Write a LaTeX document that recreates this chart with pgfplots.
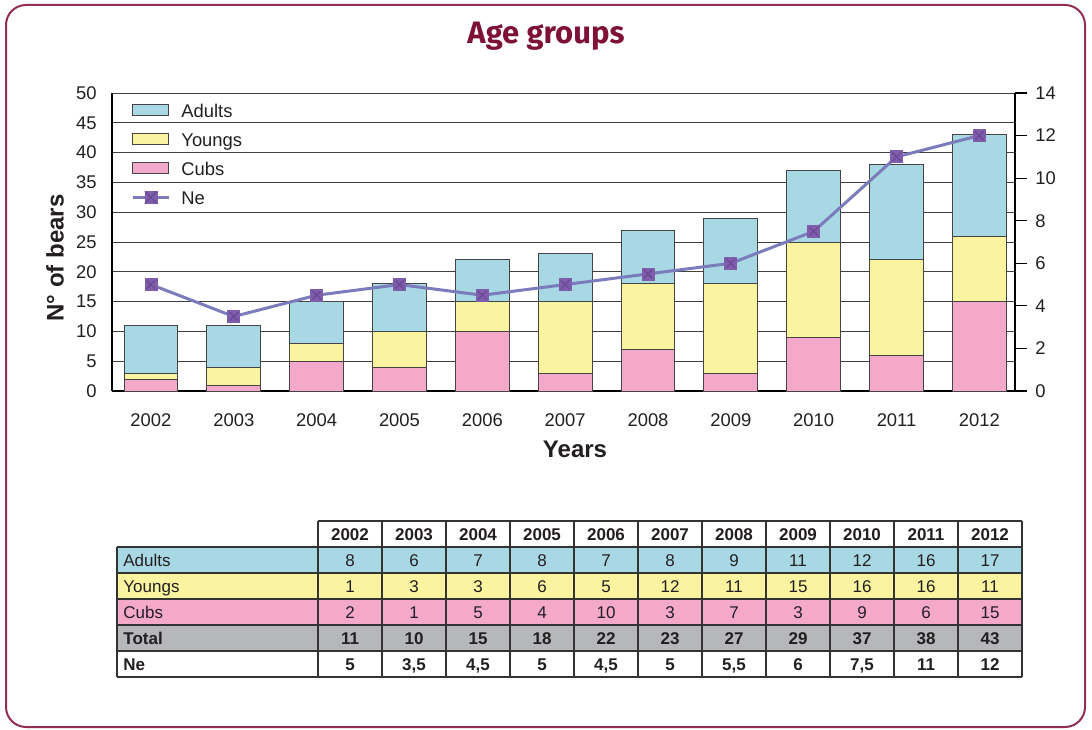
\documentclass[border=0pt]{standalone}
\usepackage{fontspec}
\setmainfont{Liberation Sans}
\newfontfamily\titlefont{Fira Sans}
\usepackage{pgfplots}
\pgfplotsset{compat=1.18}

\definecolor{adult}{HTML}{A8D8E4}
\definecolor{young}{HTML}{FAF3A0}
\definecolor{cub}{HTML}{F4A8CA}
\definecolor{totgray}{HTML}{B5B7BA}
\definecolor{titlecol}{HTML}{7E1236}
\definecolor{framecol}{HTML}{922F50}
\definecolor{necol}{HTML}{7A7CBC}
\definecolor{nemark}{HTML}{7E5DAA}
\definecolor{nex}{HTML}{6A4796}
\definecolor{barline}{HTML}{444444}
\definecolor{ink}{HTML}{231F20}

\pgfplotsset{
  common/.style={
    at={(56pt,169pt)}, anchor=south west,
    scale only axis, width=451.5pt, height=149pt,
    xmin=-0.47, xmax=10.43,
    tick label style={font=\fontsize{9.2}{11}\selectfont, text=ink, inner sep=0pt},
    /pgf/number format/assume math mode=true,
  },
  barbox/.style={draw=barline, line width=0.5pt,
    legend image code/.code={\draw[##1] (0pt,-2.75pt) rectangle (18pt,2.75pt);}},
}

\begin{document}
\begin{tikzpicture}
\begin{scope}[x=0.5pt,y=-0.5pt,yshift=364.5pt]
  \path[use as bounding box] (0,0) rectangle (1092,729);
  \draw[framecol, line width=1pt, rounded corners=10pt] (6,5) rectangle (1085,727);
  \node[anchor=base, text=titlecol, font=\titlefont\bfseries\fontsize{15.5}{18}\selectfont] at (546,44) {Age groups};
  \node[rotate=90, text=ink, font=\bfseries\fontsize{12}{14}\selectfont] at (55,258) {N° of bears};
  \node[anchor=base, text=ink, font=\bfseries\fontsize{12}{14}\selectfont] at (575,458) {Years};

  % table
  \fill[white] (318,521) rectangle (1022,547);
  \fill[adult] (117,547) rectangle (1022,573);
  \fill[young] (117,573) rectangle (1022,599);
  \fill[cub] (117,599) rectangle (1022,625);
  \fill[totgray] (117,625) rectangle (1022,651);
  \fill[white] (117,651) rectangle (1022,677);
  \begin{scope}[draw=black!80, line width=0.8pt]
    \draw (318,521) -- (1022,521);
    \foreach \r in {547,573,599,625,651,677} \draw (117,\r) -- (1022,\r);
    \draw (117,547) -- (117,677);
    \foreach \c in {0,...,11} \draw (318+64*\c,521) -- (318+64*\c,677);
  \end{scope}
  \begin{scope}[every node/.style={text=ink, font=\fontsize{8.5}{10}\selectfont, inner sep=0pt}]
    \node[anchor=base west] at (123,566) {Adults};
    \node[anchor=base west] at (123,592) {Youngs};
    \node[anchor=base west] at (123,618) {Cubs};
    \node[anchor=base west, font=\bfseries\fontsize{8.5}{10}\selectfont] at (123,644) {Total};
    \node[anchor=base west, font=\bfseries\fontsize{8.5}{10}\selectfont] at (123,670) {Ne};
    \foreach \v [count=\i from 0] in {2002,2003,2004,2005,2006,2007,2008,2009,2010,2011,2012}
      \node[anchor=base, font=\bfseries\fontsize{8.5}{10}\selectfont] at (350+64*\i,540) {\v};
    \foreach \v [count=\i from 0] in {8,6,7,8,7,8,9,11,12,16,17}
      \node[anchor=base] at (350+64*\i,566) {\v};
    \foreach \v [count=\i from 0] in {1,3,3,6,5,12,11,15,16,16,11}
      \node[anchor=base] at (350+64*\i,592) {\v};
    \foreach \v [count=\i from 0] in {2,1,5,4,10,3,7,3,9,6,15}
      \node[anchor=base] at (350+64*\i,618) {\v};
    \foreach \v [count=\i from 0] in {11,10,15,18,22,23,27,29,37,38,43}
      \node[anchor=base, font=\bfseries\fontsize{8.5}{10}\selectfont] at (350+64*\i,644) {\v};
    \foreach \v [count=\i from 0] in {5,{3,5},{4,5},5,{4,5},5,{5,5},6,{7,5},11,12}
      \node[anchor=base, font=\bfseries\fontsize{8.5}{10}\selectfont] at (350+64*\i,670) {\v};
  \end{scope}
\end{scope}

\begin{axis}[common,
  ymin=0, ymax=50, ytick={0,5,...,50},
  ybar stacked, bar width=0.65,
  xtick={0,...,10},
  xticklabels={2002,2003,2004,2005,2006,2007,2008,2009,2010,2011,2012},
  axis x line*=bottom, axis y line*=left,
  axis line style={black, line width=1pt, -},
  ymajorgrids, grid style={black!75, line width=0.5pt},
  major tick length=0pt,
  yticklabel style={anchor=east, xshift=-7.5pt},
  xticklabel style={anchor=north, yshift=-11pt},
  legend style={at={(0,1)}, anchor=north west, xshift=9.5pt, yshift=-5.2pt,
    draw=none, fill=none, inner sep=0pt, row sep=7.9pt, column sep=5.5pt,
    font=\fontsize{9.2}{11}\selectfont, text=ink,
    nodes={inner sep=0pt, text height=6.6pt, text depth=0pt}},
  legend cell align=left,
]
\addplot[fill=cub, barbox, forget plot] coordinates {(0,2) (1,1) (2,5) (3,4) (4,10) (5,3) (6,7) (7,3) (8,9) (9,6) (10,15)};
\addplot[fill=young, barbox, forget plot] coordinates {(0,1) (1,3) (2,3) (3,6) (4,5) (5,12) (6,11) (7,15) (8,16) (9,16) (10,11)};
\addplot[fill=adult, barbox, forget plot] coordinates {(0,8) (1,7) (2,7) (3,8) (4,7) (5,8) (6,9) (7,11) (8,12) (9,16) (10,17)};
\addlegendimage{fill=adult, barbox}
\addlegendentry{Adults}
\addlegendimage{fill=young, barbox}
\addlegendentry{Youngs}
\addlegendimage{fill=cub, barbox}
\addlegendentry{Cubs}
\addlegendimage{legend image code/.code={
  \draw[necol, line width=1.5pt] (0pt,0pt) -- (18pt,0pt);
  \fill[nemark] (6pt,-3pt) rectangle (12pt,3pt);
  \draw[nex, line width=0.6pt] (6pt,-3pt) -- (12pt,3pt) (6pt,3pt) -- (12pt,-3pt);}}
\addlegendentry{Ne}
\end{axis}

\begin{axis}[common,
  ymin=0, ymax=14, ytick={0,2,...,14},
  axis x line=none, axis y line*=right,
  axis line style={black, line width=1pt, -},
  tick align=outside, major tick length=6pt,
  ytick style={black, line width=0.6pt},
  yticklabel style={anchor=west, xshift=4pt},
]
\addplot[necol, line width=1.5pt, mark=square*, mark size=3pt,
  mark options={fill=nemark, draw=nemark, line width=0.4pt}]
  coordinates {(0,5) (1,3.5) (2,4.5) (3,5) (4,4.5) (5,5) (6,5.5) (7,6) (8,7.5) (9,11) (10,12)};
\addplot[only marks, mark=x, mark size=3pt, nex, line width=0.6pt]
  coordinates {(0,5) (1,3.5) (2,4.5) (3,5) (4,4.5) (5,5) (6,5.5) (7,6) (8,7.5) (9,11) (10,12)};
\end{axis}
\end{tikzpicture}
\end{document}
